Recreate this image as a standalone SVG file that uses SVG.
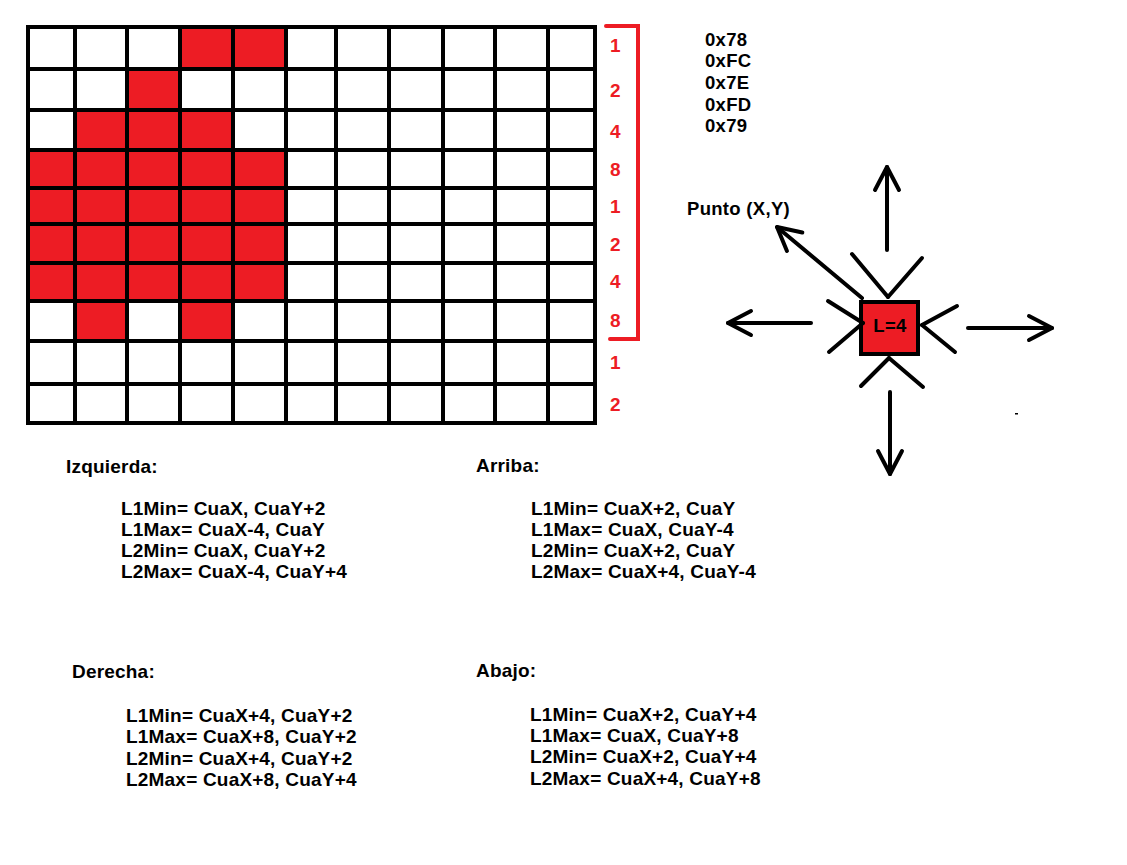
<svg xmlns="http://www.w3.org/2000/svg" width="1127" height="865" viewBox="0 0 1127 865">
<style>
  text { font-family: "Liberation Sans", Arial, sans-serif; font-weight: bold; fill: #000; }
  .t { font-size: 19px; letter-spacing: 0.2px; }
  .hex { font-size: 18.5px; letter-spacing: 0.3px; }
  .bit { font-size: 19px; fill: #ED1C24; }
  .cell { fill: #ED1C24; }
  .grid { fill: none; stroke: #000; stroke-width: 4; stroke-linecap: square; }
  .ln { fill: none; stroke: #000; stroke-width: 4; stroke-linecap: round; }
</style>
<defs>
  <marker id="ah" markerUnits="userSpaceOnUse" orient="auto" refX="0" refY="0" markerWidth="30" markerHeight="30" overflow="visible">
    <path d="M-23,-12 L0,0 L-23,12" fill="none" stroke="#000" stroke-width="4" stroke-linecap="round" stroke-linejoin="round"/>
  </marker>
</defs>
<rect x="0" y="0" width="1127" height="865" fill="#fff"/>

<g id="pixel-grid">
  <g id="red-cells">
    <rect class="cell" x="180" y="27" width="106" height="42"/>
    <rect class="cell" x="127" y="69" width="53" height="41"/>
    <rect class="cell" x="75" y="110" width="158" height="40"/>
    <rect class="cell" x="28" y="150" width="258" height="151"/>
    <rect class="cell" x="75" y="301" width="52" height="40"/>
    <rect class="cell" x="180" y="301" width="53" height="40"/>
  </g>
  <path class="grid" d="M28,27V423 M75,27V423 M127,27V423 M180,27V423 M233,27V423 M286,27V423 M336,27V423 M389,27V423 M443,27V423 M495,27V423 M548,27V423 M595,27V423
    M28,27H595 M28,69H595 M28,110H595 M28,150H595 M28,188H595 M28,224H595 M28,263H595 M28,301H595 M28,341H595 M28,384H595 M28,423H595"/>
</g>

<g id="bit-weights">
  <path d="M606,26 L638,26 L638,339 L610,339" fill="none" stroke="#ED1C24" stroke-width="4" stroke-linecap="round"/>
  <text class="bit" x="610" y="52">1</text>
  <text class="bit" x="610" y="97">2</text>
  <text class="bit" x="610" y="138">4</text>
  <text class="bit" x="610" y="176">8</text>
  <text class="bit" x="610" y="213">1</text>
  <text class="bit" x="610" y="251">2</text>
  <text class="bit" x="610" y="288">4</text>
  <text class="bit" x="610" y="327">8</text>
  <text class="bit" x="610" y="369">1</text>
  <text class="bit" x="610" y="411">2</text>
</g>

<g id="hex-values">
  <text class="hex" x="705" y="46">0x78</text>
  <text class="hex" x="705" y="67">0xFC</text>
  <text class="hex" x="705" y="89">0x7E</text>
  <text class="hex" x="705" y="111">0xFD</text>
  <text class="hex" x="705" y="132">0x79</text>
</g>

<g id="point-label">
  <text class="hex" x="687" y="215">Punto (X,Y)</text>
</g>

<g id="square-node">
  <rect x="861" y="302" width="57" height="52" fill="#ED1C24" stroke="#000" stroke-width="4"/>
  <text class="hex" x="890" y="332" text-anchor="middle">L=4</text>
</g>

<g id="connectors">
  <line class="ln" x1="887" y1="250" x2="887" y2="167" marker-end="url(#ah)"/>
  <line class="ln" x1="890" y1="392" x2="890" y2="474" marker-end="url(#ah)"/>
  <line class="ln" x1="811" y1="323" x2="728" y2="323" marker-end="url(#ah)"/>
  <line class="ln" x1="968" y1="328" x2="1052" y2="328" marker-end="url(#ah)"/>
  <line class="ln" x1="862" y1="298" x2="777" y2="227" marker-end="url(#ah)"/>
  <line class="ln" x1="852" y1="254" x2="888" y2="297"/>
  <line class="ln" x1="922" y1="258" x2="888" y2="297"/>
  <line class="ln" x1="828" y1="301" x2="863" y2="323"/>
  <line class="ln" x1="829" y1="352" x2="863" y2="323"/>
  <line class="ln" x1="957" y1="306" x2="922" y2="325"/>
  <line class="ln" x1="955" y1="352" x2="922" y2="325"/>
  <line class="ln" x1="861" y1="386" x2="889" y2="358"/>
  <line class="ln" x1="923" y1="387" x2="889" y2="358"/>
  <rect x="1015" y="413" width="3" height="1.5" fill="#000"/>
</g>

<g id="izquierda">
  <text class="t" x="66" y="473">Izquierda:</text>
  <text class="t" x="121" y="515">L1Min= CuaX, CuaY+2</text>
  <text class="t" x="121" y="536">L1Max= CuaX-4, CuaY</text>
  <text class="t" x="121" y="557">L2Min= CuaX, CuaY+2</text>
  <text class="t" x="121" y="578">L2Max= CuaX-4, CuaY+4</text>
</g>

<g id="arriba">
  <text class="t" x="476" y="472">Arriba:</text>
  <text class="t" x="531" y="515">L1Min= CuaX+2, CuaY</text>
  <text class="t" x="531" y="536">L1Max= CuaX, CuaY-4</text>
  <text class="t" x="531" y="557">L2Min= CuaX+2, CuaY</text>
  <text class="t" x="531" y="578">L2Max= CuaX+4, CuaY-4</text>
</g>

<g id="derecha">
  <text class="t" x="72" y="678">Derecha:</text>
  <text class="t" x="126" y="722">L1Min= CuaX+4, CuaY+2</text>
  <text class="t" x="126" y="743">L1Max= CuaX+8, CuaY+2</text>
  <text class="t" x="126" y="765">L2Min= CuaX+4, CuaY+2</text>
  <text class="t" x="126" y="786">L2Max= CuaX+8, CuaY+4</text>
</g>

<g id="abajo">
  <text class="t" x="476" y="677">Abajo:</text>
  <text class="t" x="530" y="721">L1Min= CuaX+2, CuaY+4</text>
  <text class="t" x="530" y="742">L1Max= CuaX, CuaY+8</text>
  <text class="t" x="530" y="763">L2Min= CuaX+2, CuaY+4</text>
  <text class="t" x="530" y="785">L2Max= CuaX+4, CuaY+8</text>
</g>
</svg>
